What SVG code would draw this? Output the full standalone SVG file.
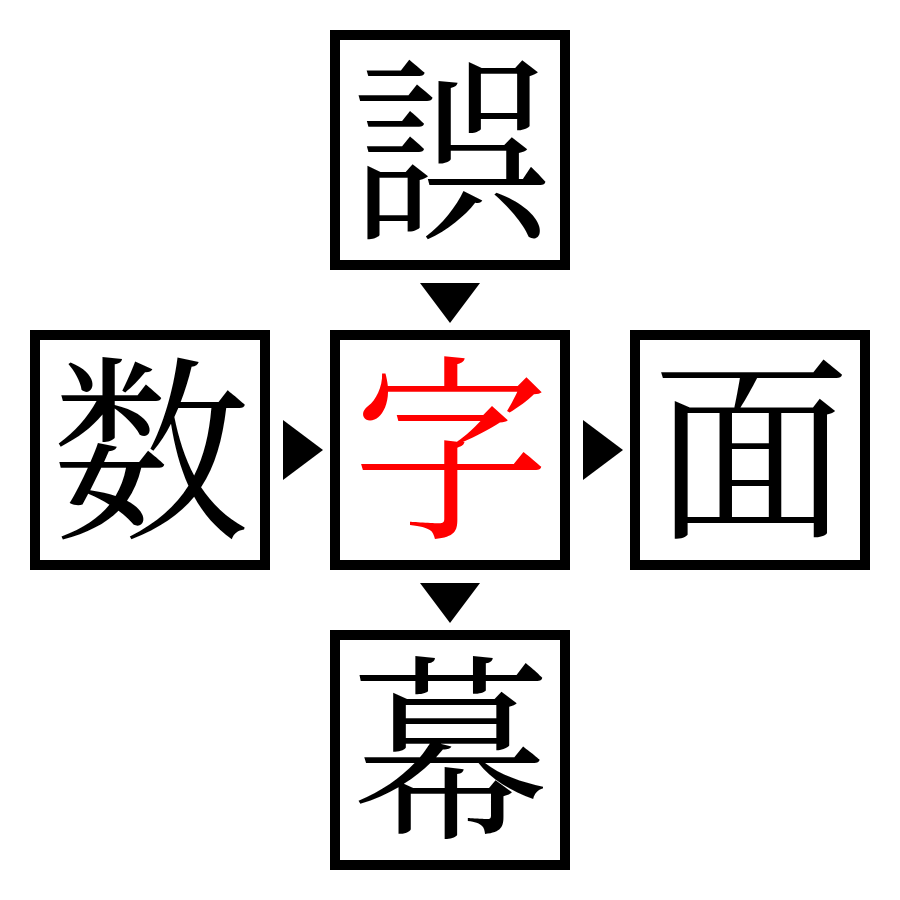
<svg xmlns="http://www.w3.org/2000/svg" width="900" height="900" viewBox="0 0 900 900">
<style>
.box{fill:#fff;stroke:#000;stroke-width:10}
.ch{font-family:"Noto Serif CJK JP","Noto Sans CJK JP",serif;font-size:198px;text-anchor:middle}
.arr{fill:#000}
</style>
<rect width="900" height="900" fill="#fff"/>
<g id="node-top"><rect class="box" x="335" y="35" width="230" height="230"/><text class="ch" x="451" y="223">誤</text></g>
<g id="node-left"><rect class="box" x="35" y="335" width="230" height="230"/><text class="ch" x="151" y="523">数</text></g>
<g id="node-center"><rect class="box" x="335" y="335" width="230" height="230"/><text class="ch" x="451" y="523" fill="#ff0000">字</text></g>
<g id="node-right"><rect class="box" x="635" y="335" width="230" height="230"/><text class="ch" x="751" y="523">面</text></g>
<g id="node-bottom"><rect class="box" x="335" y="635" width="230" height="230"/><text class="ch" x="451" y="823">幕</text></g>
<g id="connectors">
<polygon class="arr" points="420,283 480,283 450,323"/>
<polygon class="arr" points="420,583 480,583 450,623"/>
<polygon class="arr" points="283,420 283,480 323,450"/>
<polygon class="arr" points="583,420 583,480 623,450"/>
</g>
</svg>
